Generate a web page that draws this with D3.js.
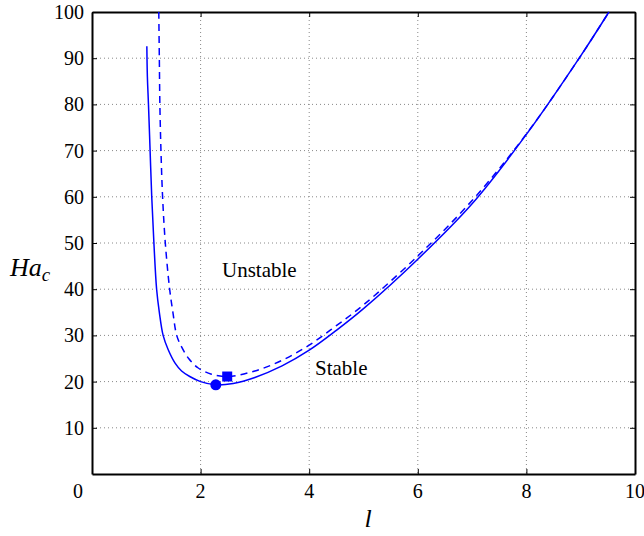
<!DOCTYPE html>
<html><head><meta charset="utf-8">
<script src="https://cdn.jsdelivr.net/npm/d3@7"></script>
<style>body{margin:0;background:#fff}</style>
</head><body><svg id="c" width="644" height="536" font-family="'Liberation Serif','Times New Roman','DejaVu Serif',serif"></svg>
<script>
const xTicks = [0, 2, 4, 6, 8, 10];
const yTicks = [10, 20, 30, 40, 50, 60, 70, 80, 90, 100];
const solidL  = [1.01,1.02,1.04,1.07,1.10,1.14,1.19,1.24,1.31,1.40,1.53,1.65,1.80,2.00,2.28,2.60,3.00,3.50,4.00,4.50,5.00,6.00,7.00,8.00,9.00,9.52];
const solidHa = [92.6,86,80,70,60,50,40,35,30,27,24,22.3,21.1,20.0,19.3,19.6,20.9,23.4,26.8,31.1,35.8,46.5,58.5,73.5,90.5,100];
const dashL  = [1.23,1.24,1.25,1.27,1.30,1.35,1.43,1.49,1.56,1.65,1.78,1.95,2.20,2.49,3.00,3.50,4.00,4.50,5.00,6.00,7.00,8.00,9.00,9.52];
const dashHa = [100,90,80,70,60,50,40,35,30,27.5,25,23,21.6,21.1,22.3,24.6,27.9,32.1,36.6,47.2,59.2,73.6,90.5,100];
const circlePt = [2.28, 19.3];
const squarePt = [2.49, 21.1];

const svg = d3.select("#c");
const L = 92, R = 635, T = 12, B = 474;
const x = d3.scaleLinear().domain([0, 10]).range([L, R]);
const y = d3.scaleLinear().domain([0, 100]).range([B, T]);

// grid
const g = svg.append("g");
g.selectAll(".gx").data(xTicks.filter(d => d > 0 && d < 10)).join("line")
  .attr("x1", d => x(d)).attr("x2", d => x(d)).attr("y1", T).attr("y2", B)
  .attr("stroke", "#888").attr("stroke-width", 1).attr("stroke-dasharray", "1,3");
g.selectAll(".gy").data(yTicks.filter(d => d < 100)).join("line")
  .attr("y1", d => y(d)).attr("y2", d => y(d)).attr("x1", L).attr("x2", R)
  .attr("stroke", "#888").attr("stroke-width", 1).attr("stroke-dasharray", "1,3");

// axes (inward ticks, box)
const ax = (gen, tr) => svg.append("g").attr("transform", tr).call(gen)
  .call(s => { s.selectAll("text").remove(); s.select(".domain").attr("stroke-width", 2); s.selectAll(".tick line").attr("stroke-width", 1); });
ax(d3.axisBottom(x).tickValues(xTicks).tickSizeInner(-5).tickSizeOuter(0), `translate(0,${B})`);
ax(d3.axisTop(x).tickValues(xTicks).tickSizeInner(-5).tickSizeOuter(0), `translate(0,${T})`);
ax(d3.axisLeft(y).tickValues(yTicks).tickSizeInner(-5).tickSizeOuter(0), `translate(${L},0)`);
ax(d3.axisRight(y).tickValues(yTicks).tickSizeInner(-5).tickSizeOuter(0), `translate(${R},0)`);

const FF = "'Liberation Serif','Times New Roman','DejaVu Serif',serif";
// tick labels
svg.selectAll(".xl").data(xTicks).join("text").attr("font-family", FF)
  .attr("x", d => d === 0 ? x(0) - 14 : x(d)).attr("y", B + 24)
  .attr("text-anchor", "middle").attr("font-size", 20).text(d => d);
svg.selectAll(".yl").data(yTicks).join("text").attr("font-family", FF)
  .attr("x", L - 8).attr("y", d => y(d) + 7)
  .attr("text-anchor", "end").attr("font-size", 20).text(d => d);

// curves
const lineC = d3.line().x(d => x(d[0])).y(d => y(d[1])).curve(d3.curveCatmullRom.alpha(0.5));
svg.append("path").datum(solidL.map((l, i) => [l, solidHa[i]])).attr("d", lineC)
  .attr("fill", "none").attr("stroke", "#0000ff").attr("stroke-width", 1.5);
svg.append("path").datum(dashL.map((l, i) => [l, dashHa[i]])).attr("d", lineC)
  .attr("fill", "none").attr("stroke", "#0000ff").attr("stroke-width", 1.5).attr("stroke-dasharray", "7,5");

// markers
svg.append("circle").attr("cx", x(circlePt[0])).attr("cy", y(circlePt[1])).attr("r", 5.5).attr("fill", "#0000ff");
svg.append("rect").attr("x", x(squarePt[0]) - 5).attr("y", y(squarePt[1]) - 5).attr("width", 10).attr("height", 10).attr("fill", "#0000ff");

// annotations
svg.append("text").attr("font-family", FF).attr("x", 222).attr("y", 277).attr("font-size", 21).text("Unstable");
svg.append("text").attr("font-family", FF).attr("x", 315).attr("y", 375).attr("font-size", 21).text("Stable");

// axis labels
svg.append("text").attr("font-family", FF).attr("x", 368).attr("y", 527).attr("text-anchor", "middle")
  .attr("font-size", 26).attr("font-style", "italic").text("l");
const yl = svg.append("text").attr("font-family", FF).attr("x", 10).attr("y", 276).attr("font-size", 26).attr("font-style", "italic");
yl.append("tspan").text("Ha");
yl.append("tspan").attr("font-size", 19).attr("dy", 5).text("c");
</script></body></html>
